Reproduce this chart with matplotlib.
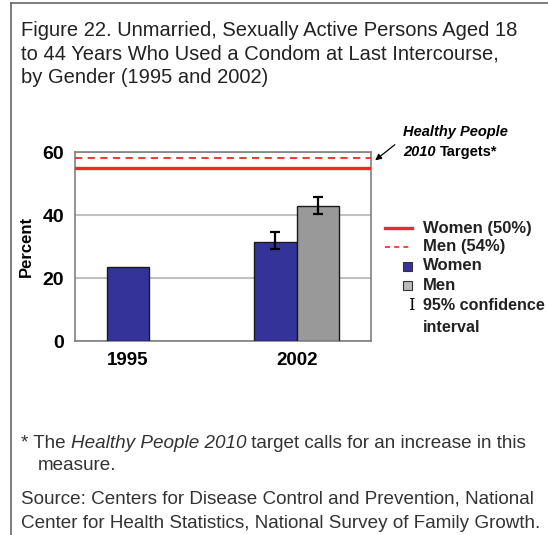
import numpy as np
import matplotlib.pyplot as plt
from matplotlib.lines import Line2D
from matplotlib.patches import Rectangle

plt.rcParams['font.family'] = ['Liberation Sans', 'DejaVu Sans']

# Daten
jahre = ['1995', '2002']
frauen = [23.4, 31.6]
maenner_2002 = 42.9
frauen_ci_2002 = [29.4, 34.8]
maenner_ci_2002 = [40.3, 45.9]
ziel_frauen = 55.0   # gezeichnete Lage der Linie "Women (50%)"
ziel_maenner = 58.2  # gezeichnete Lage der Linie "Men (54%)"
yticks = [0, 20, 40, 60]

W, H = 548, 535
blau = '#333399'
grau = '#999999'
rot = '#ee2a24'

def fx(x):
    return x / W

def fy(y):
    return 1 - y / H

fig = plt.figure(figsize=(5.48, 5.35), dpi=100)

# Rahmen links und oben
fig.add_artist(Line2D([fx(11), fx(11)], [0, fy(3)], color='#666666', lw=1.2))
fig.add_artist(Line2D([fx(11), 1], [fy(3), fy(3)], color='#666666', lw=1.2))

fig.text(fx(21), fy(21), 'Figure 22. Unmarried, Sexually Active Persons Aged 18\n'
         'to 44 Years Who Used a Condom at Last Intercourse,\nby Gender (1995 and 2002)',
         fontsize=14.5, va='top', ha='left', linespacing=1.3, color='#222222')

ax = fig.add_axes([fx(75), fy(341), fx(370.7) - fx(75), fy(152.3) - fy(341)])

x = np.arange(len(jahre))
bw = 0.252
ax.bar(x[0], frauen[0], bw, color=blau, edgecolor='#1a1a1a', lw=1, zorder=3)
ax.bar(x[1] - bw / 2, frauen[1], bw, color=blau, edgecolor='#1a1a1a', lw=1, zorder=3)
ax.bar(x[1] + bw / 2, maenner_2002, bw, color=grau, edgecolor='#1a1a1a', lw=1, zorder=3)

for xpos, wert, ci in [(x[1] - bw / 2, frauen[1], frauen_ci_2002),
                       (x[1] + bw / 2, maenner_2002, maenner_ci_2002)]:
    ax.errorbar(xpos, wert, yerr=[[wert - ci[0]], [ci[1] - wert]], fmt='none',
                ecolor='black', elinewidth=1.6, capsize=3.5, capthick=1.6, zorder=4)

ax.axhline(ziel_frauen, color=rot, lw=2.4, zorder=5)
ax.axhline(ziel_maenner, color=rot, lw=1.3, ls=(0, (4, 3)), zorder=5)

ax.set_xlim(-0.313, 1.438)
ax.set_ylim(0, 60)
ax.set_yticks(yticks)
ax.set_yticklabels([str(t) for t in yticks], fontsize=14, fontweight='bold')
ax.set_xticks(x)
ax.set_xticklabels(jahre, fontsize=13.5, fontweight='bold')
ax.tick_params(length=0, pad=8)
ax.tick_params(axis='y', pad=8)
ax.yaxis.grid(True, color='#c0c0c0', lw=1.5, zorder=0)
ax.set_axisbelow(True)
for s in ax.spines.values():
    s.set_color('#808080')
    s.set_linewidth(1.2)
ax.set_ylabel('Percent', fontsize=12, fontweight='bold', labelpad=6)

# Annotation Zielwerte
fig.text(fx(403), fy(132), 'Healthy People', fontsize=10.5, fontweight='bold',
         style='italic', va='center', ha='left')
t2010 = fig.text(fx(403), fy(152), '2010 ', fontsize=10.5, fontweight='bold',
                 style='italic', va='center', ha='left')
ax.annotate('Targets*', xy=(1, 0), xycoords=t2010, va='bottom', ha='left',
            fontsize=10.5, fontweight='bold', annotation_clip=False)
fig.add_artist(plt.Annotation('', xy=(fx(373), fy(162)), xytext=(fx(397), fy(143)),
                              xycoords='figure fraction', textcoords='figure fraction',
                              arrowprops=dict(arrowstyle='-|>', color='black', lw=0.9,
                                              mutation_scale=9)))

# Legende
fs_leg = 12
fig.add_artist(Line2D([fx(385), fx(412)], [fy(228), fy(228)], color=rot, lw=2.4))
fig.add_artist(Line2D([fx(385), fx(412)], [fy(247), fy(247)], color=rot, lw=1.2,
                      ls=(0, (3, 2.5))))
fig.add_artist(Rectangle((fx(403), fy(271)), fx(9), fy(0) - fy(9), facecolor=blau,
                         edgecolor='#333333', lw=0.8))
fig.add_artist(Rectangle((fx(403), fy(290)), fx(9), fy(0) - fy(9), facecolor='#bbbbbb',
                         edgecolor='#333333', lw=0.8))
fig.text(fx(411), fy(306), 'I', fontsize=12, family='DejaVu Serif', va='center', ha='center')
for ypos, txt in [(228, 'Women (50%)'), (247, 'Men (54%)'), (266, 'Women'),
                  (285, 'Men'), (306, '95% confidence'), (328, 'interval')]:
    fig.text(fx(423), fy(ypos), txt, fontsize=fs_leg if ypos < 300 else 11.6,
             fontweight='bold', va='center', ha='left', color='#222222')

# Fussnoten
fs_fn = 13.6
grau_text = '#333333'
t1 = fig.text(fx(21), fy(443), '* The ', fontsize=fs_fn, va='center', ha='left', color=grau_text)
t2 = ax.annotate('Healthy People 2010', xy=(1, 0), xycoords=t1, va='bottom', ha='left',
                 fontsize=fs_fn, style='italic', color=grau_text, annotation_clip=False)
ax.annotate(' target calls for an increase in this', xy=(1, 0), xycoords=t2, va='bottom',
            ha='left', fontsize=fs_fn, color=grau_text, annotation_clip=False)
fig.text(fx(38), fy(466), 'measure.', fontsize=fs_fn, va='center', ha='left', color=grau_text)
fig.text(fx(21), fy(499), 'Source: Centers for Disease Control and Prevention, National',
         fontsize=fs_fn, va='center', ha='left', color=grau_text)
fig.text(fx(21), fy(524), 'Center for Health Statistics, National Survey of Family Growth.',
         fontsize=fs_fn, va='center', ha='left', color=grau_text)

fig.savefig('out.png', dpi=100)
